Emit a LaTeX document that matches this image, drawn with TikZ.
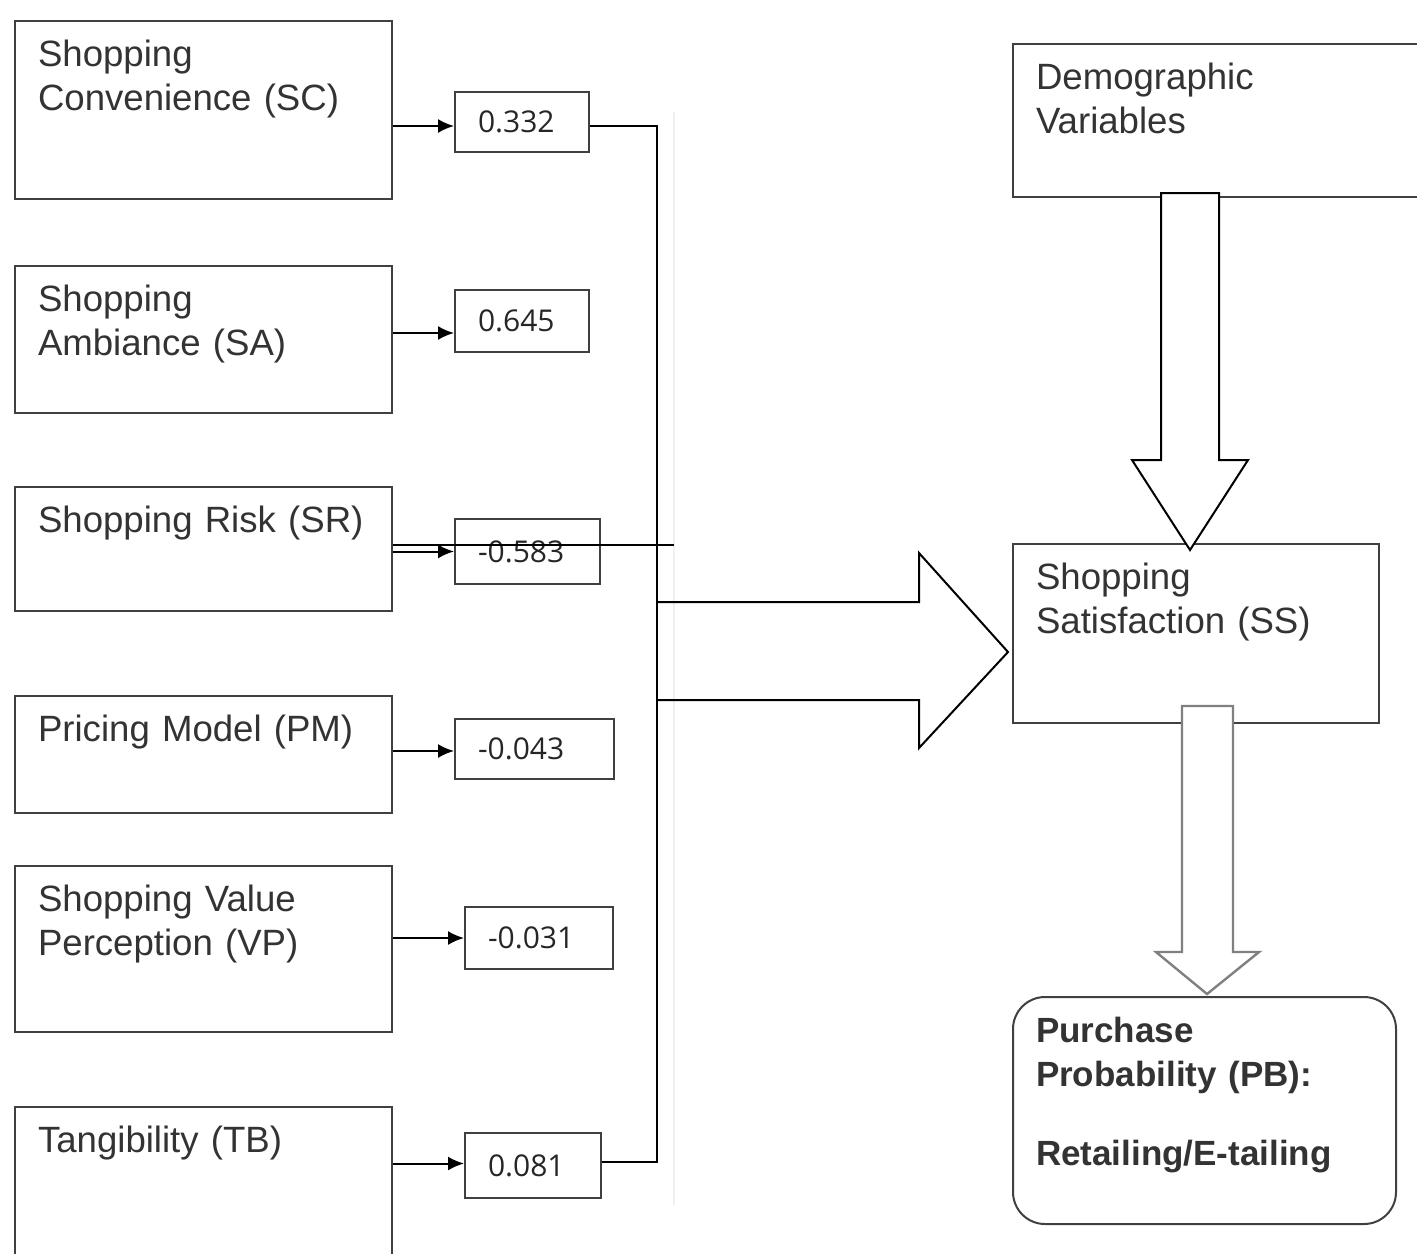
\documentclass[tikz,border=0pt]{standalone}
\usepackage{fontspec}
\setmainfont{Liberation Sans}
\newfontfamily\valfont{Open Sans}
\usetikzlibrary{arrows.meta}

\begin{document}
\begin{tikzpicture}[x=0.5pt,y=-0.5pt,line width=1pt,
  box/.style={rectangle,draw=black!75,anchor=north west,align=left,inner xsep=11.5pt,inner ysep=0pt,
    text height=22.5pt,text=black!80,font=\fontsize{18.3}{22.3}\selectfont},
  val/.style={rectangle,draw=black!75,anchor=north west,align=left,inner xsep=11.5pt,inner ysep=0pt,
    text=black!85,font=\valfont\fontsize{15}{18}\selectfont},
  tip/.style={-{Latex[length=8pt,width=7pt]}}]
\useasboundingbox (0,0) rectangle (1417,1253);
\clip (0,0) rectangle (1417,1253);

\node[box,text width=165.5pt,text depth=66.5pt] (sc) at (14,20) {Shopping\\Convenience (SC)};
\node[box,text width=165.5pt,text depth=51pt] (sa) at (14,265) {Shopping\\Ambiance (SA)};
\node[box,text width=165.5pt,text depth=39.5pt] (sr) at (14,486) {Shopping Risk (SR)};
\node[box,text width=165.5pt,text depth=36pt] (pm) at (14,695) {Pricing Model (PM)};
\node[box,text width=165.5pt,text depth=60.5pt] (vp) at (14,865) {Shopping Value\\Perception (VP)};
\node[box,text width=165.5pt,text depth=74.5pt] (tb) at (14,1106) {Tangibility (TB)};

\node[val,text width=44pt,minimum height=30pt] (v1) at (454,91) {0.332};
\node[val,text width=44pt,minimum height=31pt] (v2) at (454,289) {0.645};
\node[val,text width=49.5pt,minimum height=32.5pt] (v3) at (454,518) {-0.583};
\node[val,text width=56.5pt,minimum height=30pt] (v4) at (454,718) {-0.043};
\node[val,text width=51pt,minimum height=31pt] (v5) at (464,906) {-0.031};
\node[val,text width=45pt,minimum height=32.5pt] (v6) at (464,1132) {0.081};

\node[box,text width=186pt,text depth=54pt] (demo) at (1012,43) {Demographic\\Variables};
\node[box,text width=160pt,text depth=67pt] (ss) at (1012,543) {Shopping\\Satisfaction (SS)};
\node[box,rounded corners=16pt,text width=168.5pt,text depth=91pt,
  font=\bfseries\fontsize{17.5}{22.3}\selectfont] (pb) at (1012,996)
  {Purchase\\Probability (PB):\\[17.2pt]Retailing/E-tailing};

\foreach \f/\n/\s in {sc/1/-2pt,sa/2/-6pt,sr/3/0pt,pm/4/-1pt,vp/5/0pt,tb/6/1pt}{
  \coordinate (e\n) at ([yshift=\s]v\n.west);
  \draw[tip] (e\n -| \f.east) -- (e\n);
}

\draw[black!6] (674,112) -- (674,1205);
\coordinate (bt) at (657,126);
\coordinate (bb) at (657,1162);
\draw (v1.east |- bt) -- (bt) -- (bb) -- (v6.east |- bb);
\coordinate (se) at (674,545);
\draw (sr.east |- se) -- (se);

\draw (657,602) -- (919,602) -- (919,553) -- (1008,652) -- (919,748) -- (919,700) -- (657,700);
\draw[fill=white] (1161,193) -- (1161,460) -- (1132,460) -- (1190,550) -- (1248,460) -- (1219,460) -- (1219,193) -- cycle;
\draw[draw=black!50,line width=1.2pt,fill=white] (1182,706) -- (1182,952) -- (1156,952) -- (1207,994)
  -- (1259,952) -- (1233,952) -- (1233,706) -- cycle;
\end{tikzpicture}
\end{document}
